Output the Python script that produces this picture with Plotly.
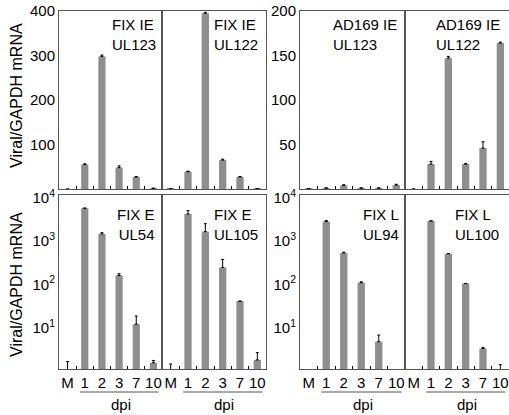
import plotly.graph_objects as go

categories = ["M", "1", "2", "3", "7", "10"]

# Top row (linear): IE genes
fix_ie_ul123 = [0, 55, 298, 48, 27, 1.5]
fix_ie_ul123_err = [0, 1.5, 3, 4, 1, 0.5]
fix_ie_ul122 = [0.5, 39, 395, 65, 27, 0.5]
fix_ie_ul122_err = [0, 1, 2, 2, 1, 0]
ad169_ie_ul123 = [0.3, 1, 4, 1, 1, 4.5]
ad169_ie_ul123_err = [0, 0.3, 0.8, 0.3, 0.3, 0.8]
ad169_ie_ul122 = [0, 28, 147, 28, 46, 164]
ad169_ie_ul122_err = [0, 3, 2, 0.5, 7, 1]

# Bottom row (log): E and L genes
fix_e_ul54 = [1.05, 5700, 1450, 160, 12, 1.55]
fix_e_ul54_err = [0.6, 0, 100, 15, 6.5, 0.2]
fix_e_ul105 = [1.05, 4200, 1640, 245, 41, 1.8]
fix_e_ul105_err = [0.4, 800, 860, 130, 0, 0.85]
fix_l_ul94 = [None, 2800, 530, 109, 4.75, None]
fix_l_ul94_err = [0, 150, 20, 5, 2, 0]
fix_l_ul100 = [None, 2900, 510, 104, 3.3, 1.05]
fix_l_ul100_err = [0, 0, 0, 0, 0.2, 0.35]

panel_titles = ["FIX IE<br>UL123", "FIX IE<br>UL122", "AD169 IE<br>UL123", "AD169 IE<br>UL122",
                "FIX E<br>UL54", "FIX E<br>UL105", "FIX L<br>UL94", "FIX L<br>UL100"]
series = [fix_ie_ul123, fix_ie_ul122, ad169_ie_ul123, ad169_ie_ul122,
          fix_e_ul54, fix_e_ul105, fix_l_ul94, fix_l_ul100]
errors = [fix_ie_ul123_err, fix_ie_ul122_err, ad169_ie_ul123_err, ad169_ie_ul122_err,
          fix_e_ul54_err, fix_e_ul105_err, fix_l_ul94_err, fix_l_ul100_err]

W, H = 509, 415
ML, MR, MT, MB = 59, 0, 11, 46
PW, PH = W - ML - MR, H - MT - MB

def px_x(p):
    return (p - ML) / PW

def px_y(p):
    return (H - MB - p) / PH

col_px = [(59, 162), (162, 266), (300, 405), (405, 509)]
row_px = [(11, 189), (195, 369)]

FONT = "Liberation Sans, Arial, sans-serif"
BAR = "#8e8e8e"
LINE = "#555555"

fig = go.Figure()
layout = dict(
    width=W, height=H, margin=dict(l=ML, r=MR, t=MT, b=MB, autoexpand=False),
    paper_bgcolor="white", plot_bgcolor="white", showlegend=False,
    font=dict(family=FONT, size=15, color="black"),
    bargap=0.58,
)

for i in range(8):
    n = i + 1
    row = i // 4
    col = i % 4
    xs = "" if n == 1 else str(n)
    fig.add_trace(go.Bar(
        x=categories, y=series[i], marker_color=BAR, marker_line_width=0,
        error_y=dict(type="data", array=errors[i], symmetric=False,
                     arrayminus=[0] * 6, color="black", thickness=1, width=1.5),
        xaxis="x" + xs, yaxis="y" + xs, hoverinfo="skip",
    ))
    x0, x1 = col_px[col]
    y0, y1 = row_px[row]
    layout["xaxis" + xs] = dict(
        domain=[px_x(x0), px_x(x1)], anchor="y" + xs, type="category",
        categoryorder="array", categoryarray=categories, range=[-0.5, 5.5],
        tickmode="array", tickvals=categories, ticktext=categories, tickangle=0,
        showline=True, mirror=True, linecolor=LINE, linewidth=1,
        ticks="inside", tickson="boundaries", ticklen=3, tickcolor="black",
        showticklabels=(row == 1), tickfont=dict(size=15), showgrid=False,
        automargin=False,
    )
    ydict = dict(
        domain=[px_y(y1), px_y(y0)], anchor="x" + xs,
        showline=True, mirror=True, linecolor=LINE, linewidth=1,
        showgrid=False, zeroline=False, ticks="",
        showticklabels=(col % 2 == 0), tickfont=dict(size=15),
        automargin=False,
    )
    if row == 0:
        if col < 2:
            ydict.update(range=[0, 400], tickvals=[100, 200, 300, 400])
        else:
            ydict.update(range=[0, 200], tickvals=[50, 100, 150, 200])
    else:
        ydict.update(type="log", range=[0.046, 4.06], tickvals=[10, 100, 1000, 10000],
                     ticktext=["10<sup>1</sup>", "10<sup>2</sup>", "10<sup>3</sup>", "10<sup>4</sup>"])
    layout["yaxis" + xs] = ydict

annotations = []
label_left = [111, 213, 332, 435, None, 213, 362, 454]
for i in range(8):
    n = i + 1
    row = i // 4
    col = i % 4
    xs = "" if n == 1 else str(n)
    x0, x1 = col_px[col]
    y0, y1 = row_px[row]
    yc = y0 + (23.5 if row == 0 else 29.5)
    if label_left[i] is None:
        annotations.append(dict(text=panel_titles[i], xref="paper", yref="paper",
                                x=px_x(157), y=px_y(yc), xanchor="right", yanchor="middle",
                                align="right", showarrow=False, font=dict(size=15)))
    else:
        annotations.append(dict(text=panel_titles[i], xref="paper", yref="paper",
                                x=px_x(label_left[i] - 1), y=px_y(yc), xanchor="left",
                                yanchor="middle", align="left", showarrow=False,
                                font=dict(size=15)))
    if row == 1:
        annotations.append(dict(text="dpi", xref="x" + xs, yref="paper", x=3.1,
                                y=px_y(404), xanchor="center", yanchor="middle",
                                showarrow=False, font=dict(size=15)))

annotations.append(dict(text="Viral/GAPDH mRNA", xref="paper", yref="paper", x=px_x(16),
                        y=px_y(96), textangle=-90, showarrow=False, xanchor="center",
                        yanchor="middle", font=dict(size=16)))
annotations.append(dict(text="Viral/GAPDH mRNA", xref="paper", yref="paper", x=px_x(16),
                        y=px_y(285), textangle=-90, showarrow=False, xanchor="center",
                        yanchor="middle", font=dict(size=16)))

shapes = []
for n in [5, 6, 7, 8]:
    shapes.append(dict(type="line", xref="x%d" % n, yref="paper", x0=0.72, x1=5.3,
                       y0=px_y(392), y1=px_y(392), line=dict(color="#555555", width=1)))

layout["annotations"] = annotations
layout["shapes"] = shapes
fig.update_layout(**layout)
fig.write_html("out.html", config={"displayModeBar": False},
               post_script="document.body.style.margin='0px';document.body.style.overflow='hidden';")
